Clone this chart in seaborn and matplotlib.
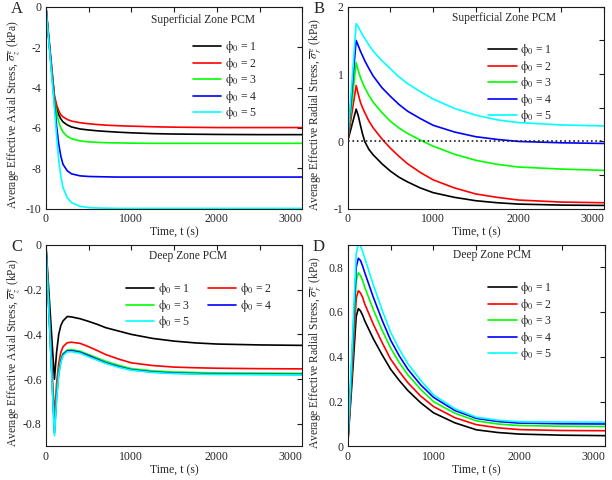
import matplotlib
matplotlib.use("Agg")
import pandas as pd
import seaborn as sns
import matplotlib.pyplot as plt
from matplotlib.ticker import MultipleLocator, FuncFormatter

sns.set_theme(style="white")
plt.rcParams['font.family'] = ['Liberation Serif', 'DejaVu Serif']
plt.rcParams['mathtext.fontset'] = 'stix'
plt.rcParams['axes.unicode_minus'] = False
plt.rcParams['xtick.direction'] = 'in'
plt.rcParams['ytick.direction'] = 'in'

# ---------------------------------------------------------------- data
phi_labels = ["1", "2", "3", "4", "5"]
colors = ["#000000", "#ff0000", "#00ff00", "#0000ff", "#00ffff"]

t = [0, 50, 100, 125, 150, 175, 200, 250, 300, 400, 500, 600, 700, 850, 1000, 1250, 1500, 1750, 2000, 2500, 3000]

# A: superficial zone, axial stress
sup_axial_1 = [0, -2.3, -4.5, -5.0, -5.35, -5.55, -5.7, -5.85, -5.95, -6.05, -6.1, -6.14, -6.17, -6.21, -6.24, -6.28, -6.3, -6.31, -6.32, -6.33, -6.33]
sup_axial_2 = [0, -2.2, -4.4, -4.85, -5.15, -5.35, -5.45, -5.58, -5.66, -5.74, -5.79, -5.83, -5.86, -5.89, -5.91, -5.94, -5.96, -5.97, -5.98, -5.98, -5.98]
sup_axial_3 = [0, -2.35, -4.6, -5.25, -5.7, -6.0, -6.2, -6.42, -6.53, -6.64, -6.69, -6.71, -6.73, -6.74, -6.75, -6.76, -6.76, -6.76, -6.76, -6.76, -6.76]
sup_axial_4 = [0, -2.4, -4.8, -5.9, -6.8, -7.4, -7.8, -8.12, -8.27, -8.37, -8.4, -8.41, -8.42, -8.43, -8.43, -8.43, -8.43, -8.43, -8.43, -8.43, -8.43]
sup_axial_5 = [0, -2.5, -5.0, -6.4, -7.6, -8.4, -8.95, -9.45, -9.7, -9.88, -9.94, -9.96, -9.97, -9.98, -9.98, -9.98, -9.98, -9.98, -9.98, -9.98, -9.98]

# B: superficial zone, radial stress
sup_radial_1 = [0, 0.24, 0.48, 0.38, 0.24, 0.11, 0.0, -0.12, -0.2, -0.33, -0.44, -0.53, -0.6, -0.69, -0.76, -0.83, -0.88, -0.91, -0.93, -0.945, -0.95]
sup_radial_2 = [0, 0.42, 0.83, 0.7, 0.58, 0.5, 0.43, 0.3, 0.2, 0.04, -0.1, -0.22, -0.33, -0.46, -0.57, -0.69, -0.78, -0.83, -0.87, -0.9, -0.91]
sup_radial_3 = [0, 0.58, 1.17, 1.05, 0.95, 0.87, 0.8, 0.68, 0.58, 0.43, 0.3, 0.2, 0.12, 0.02, -0.07, -0.19, -0.28, -0.34, -0.38, -0.41, -0.43]
sup_radial_4 = [0, 0.75, 1.5, 1.42, 1.34, 1.27, 1.2, 1.08, 0.97, 0.8, 0.67, 0.55, 0.45, 0.34, 0.24, 0.14, 0.07, 0.03, 0.0, -0.02, -0.03]
sup_radial_5 = [0, 0.87, 1.75, 1.7, 1.64, 1.58, 1.53, 1.43, 1.34, 1.2, 1.08, 0.96, 0.86, 0.74, 0.63, 0.49, 0.39, 0.32, 0.28, 0.245, 0.23]

# C: deep zone, axial stress
deep_axial_1 = [0, -0.3, -0.6, -0.48, -0.4, -0.36, -0.34, -0.32, -0.322, -0.33, -0.342, -0.355, -0.37, -0.385, -0.4, -0.418, -0.43, -0.438, -0.443, -0.447, -0.449]
deep_axial_2 = [0, -0.39, -0.77, -0.62, -0.53, -0.48, -0.455, -0.437, -0.435, -0.44, -0.455, -0.472, -0.49, -0.51, -0.527, -0.539, -0.546, -0.549, -0.551, -0.553, -0.554]
deep_axial_3 = [0, -0.41, -0.82, -0.66, -0.56, -0.51, -0.485, -0.47, -0.468, -0.475, -0.49, -0.505, -0.52, -0.538, -0.553, -0.563, -0.568, -0.57, -0.572, -0.573, -0.574]
deep_axial_4 = [0, -0.42, -0.84, -0.68, -0.575, -0.52, -0.49, -0.474, -0.473, -0.48, -0.495, -0.511, -0.527, -0.544, -0.558, -0.568, -0.573, -0.575, -0.577, -0.578, -0.579]
deep_axial_5 = [0, -0.425, -0.852, -0.69, -0.58, -0.525, -0.495, -0.478, -0.477, -0.484, -0.5, -0.515, -0.53, -0.547, -0.56, -0.57, -0.575, -0.577, -0.579, -0.58, -0.581]

# D: deep zone, radial stress
deep_radial_1 = [0, 0.28, 0.58, 0.615, 0.605, 0.585, 0.56, 0.52, 0.48, 0.41, 0.345, 0.295, 0.25, 0.195, 0.15, 0.105, 0.074, 0.062, 0.055, 0.05, 0.048]
deep_radial_2 = [0, 0.32, 0.66, 0.695, 0.685, 0.665, 0.635, 0.59, 0.545, 0.465, 0.39, 0.335, 0.285, 0.225, 0.178, 0.128, 0.097, 0.083, 0.075, 0.071, 0.07]
deep_radial_3 = [0, 0.36, 0.74, 0.775, 0.763, 0.74, 0.71, 0.66, 0.61, 0.52, 0.44, 0.375, 0.32, 0.255, 0.2, 0.148, 0.114, 0.1, 0.093, 0.09, 0.089]
deep_radial_4 = [0, 0.39, 0.8, 0.84, 0.83, 0.805, 0.775, 0.72, 0.665, 0.565, 0.475, 0.405, 0.345, 0.275, 0.219, 0.16, 0.125, 0.111, 0.104, 0.101, 0.1]
deep_radial_5 = [0, 0.42, 0.86, 0.905, 0.895, 0.87, 0.84, 0.78, 0.72, 0.61, 0.51, 0.435, 0.37, 0.295, 0.23, 0.168, 0.13, 0.117, 0.11, 0.109, 0.108]

x_ticks = [0, 1000, 2000, 3000]


def long_df(series):
    parts = []
    for lab, vals in zip(phi_labels, series):
        parts.append(pd.DataFrame({"t": t, "val": vals, "phi": lab}))
    return pd.concat(parts, ignore_index=True)


def panel(ax, series, ylim, ymajor, yminor, ylabel, title, title_xy, letter,
          leg_anchor, ncol=1, zero_line=False):
    df = long_df(series)
    sns.lineplot(data=df, x="t", y="val", hue="phi", palette=dict(zip(phi_labels, colors)),
                 estimator=None, sort=False, linewidth=1.2, legend=False, ax=ax)
    lines = ax.get_lines()[:5]
    if zero_line:
        ax.axhline(0, color="k", linestyle=":", linewidth=1.2)

    ax.set_xlim(0, 3000)
    ax.set_ylim(*ylim)
    ax.set_xticks(x_ticks)
    ax.set_xticklabels([str(v) for v in x_ticks])
    ax.get_xticklabels()[-1].set_horizontalalignment("right")
    ax.xaxis.set_minor_locator(MultipleLocator(500))
    ax.yaxis.set_major_locator(MultipleLocator(ymajor))
    ax.yaxis.set_major_formatter(FuncFormatter(lambda v, p: f"{v:g}"))
    if yminor:
        ax.yaxis.set_minor_locator(MultipleLocator(yminor))
    ax.tick_params(which="both", top=True, right=True, length=3.5, width=0.8,
                   labelsize=8.5, pad=3, color="k")
    for s in ax.spines.values():
        s.set_color("k")
        s.set_linewidth(0.8)

    ax.set_xlabel("Time, t (s)", fontsize=8.5, labelpad=1)
    ax.set_ylabel(ylabel, fontsize=8.3)
    ax.yaxis.set_label_coords(-0.095, 0.465)
    ax.text(title_xy[0], title_xy[1], title, transform=ax.transAxes,
            ha="center", va="center", fontsize=8.3)
    ax.text(-0.113, 0.99, letter, transform=ax.transAxes, ha="center", va="center",
            fontsize=12)

    labels = [rf"$\mathrm{{\phi}}_0$ = {p}" for p in phi_labels]
    if ncol == 2:
        order = [0, 2, 4, 1, 3]
        handles = [lines[i] for i in order]
        labels = [labels[i] for i in order]
    else:
        handles = lines
    ax.legend(handles, labels, loc="upper left", bbox_to_anchor=leg_anchor, frameon=False,
              ncol=ncol, fontsize=8.5, handlelength=2.4, handletextpad=0.3,
              labelspacing=0.05, borderpad=0, borderaxespad=0, columnspacing=1.5)


fig = plt.figure(figsize=(6.12, 4.8), dpi=100)
axA = fig.add_axes([0.075, 0.565, 0.419, 0.421])
axB = fig.add_axes([0.568, 0.565, 0.419, 0.421])
axC = fig.add_axes([0.075, 0.070, 0.419, 0.420])
axD = fig.add_axes([0.568, 0.070, 0.421, 0.420])

ylab_axial = r"Average Effective Axial Stress, $\overline{\sigma}_z^{\,e}$ (kPa)"
ylab_radial = r"Average Effective Radial Stress, $\overline{\sigma}_r^{\,e}$ (kPa)"

panel(axA, [sup_axial_1, sup_axial_2, sup_axial_3, sup_axial_4, sup_axial_5],
      (-10, 0), 2, None, ylab_axial, "Superficial Zone PCM", (0.613, 0.936), "A",
      (0.574, 0.84))
panel(axB, [sup_radial_1, sup_radial_2, sup_radial_3, sup_radial_4, sup_radial_5],
      (-1, 2), 1, 0.5, ylab_radial, "Superficial Zone PCM", (0.61, 0.944), "B",
      (0.549, 0.825), zero_line=True)
panel(axC, [deep_axial_1, deep_axial_2, deep_axial_3, deep_axial_4, deep_axial_5],
      (-0.9, 0), 0.2, None, ylab_axial, "Deep Zone PCM", (0.555, 0.942), "C",
      (0.3125, 0.82), ncol=2)
panel(axD, [deep_radial_1, deep_radial_2, deep_radial_3, deep_radial_4, deep_radial_5],
      (0, 0.9), 0.2, None, ylab_radial, "Deep Zone PCM", (0.56, 0.95), "D",
      (0.546, 0.825))

fig.savefig("out.png", dpi=100)
